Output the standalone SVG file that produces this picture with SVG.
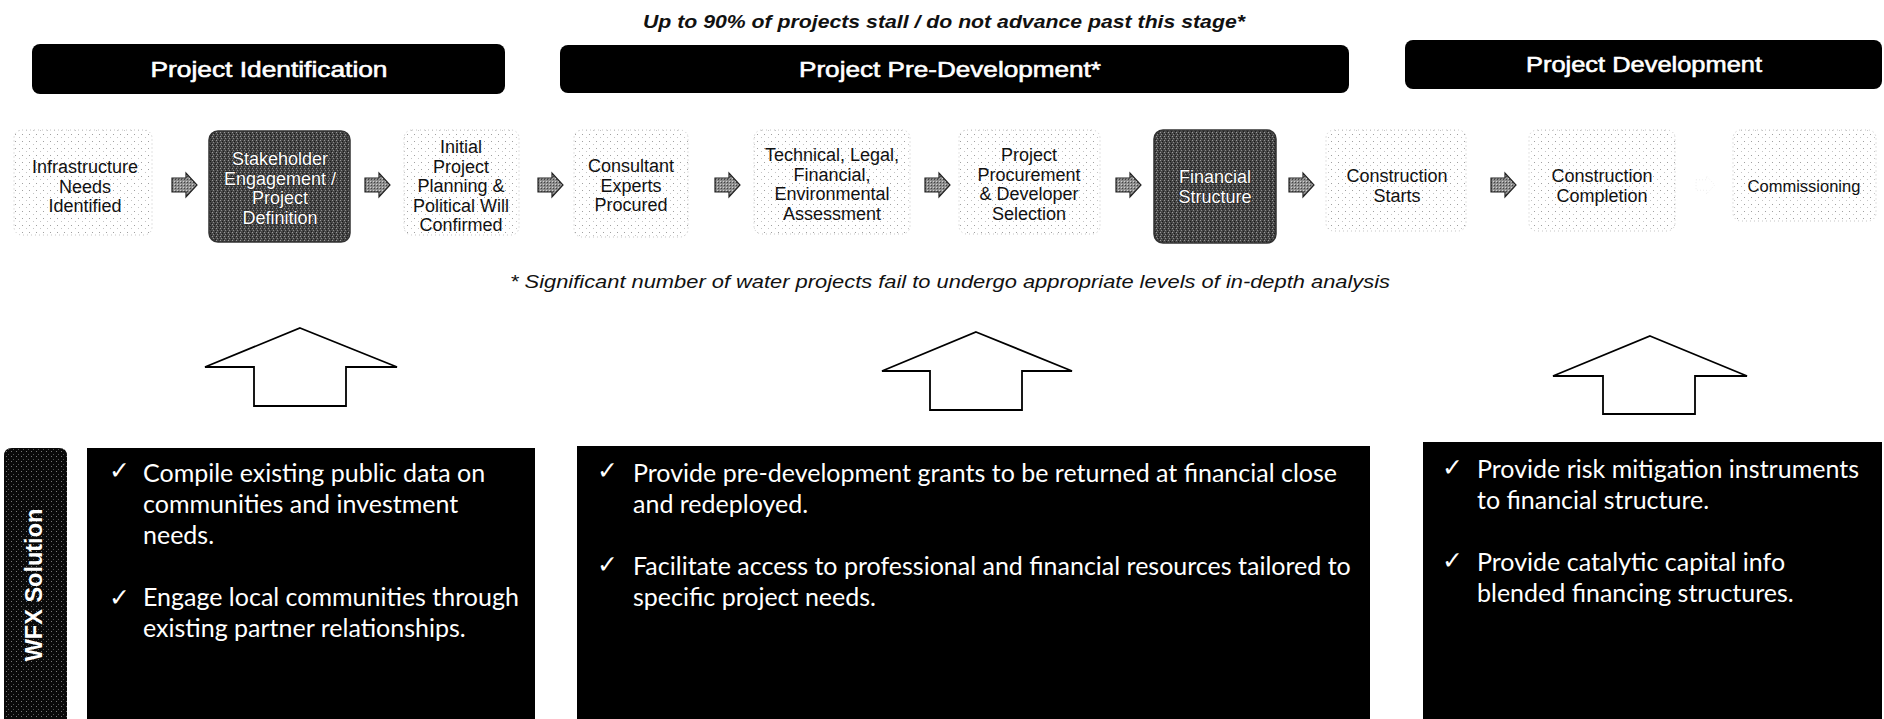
<svg xmlns="http://www.w3.org/2000/svg" width="1884" height="719" viewBox="0 0 1884 719">
<defs>
<pattern id="stip" width="7" height="7" patternUnits="userSpaceOnUse">
<rect width="7" height="7" fill="#ffffff"/>
<rect x="1" y="1" width="1" height="1" fill="#a0a0a0"/>
<rect x="5" y="4" width="1" height="1" fill="#c4c4c4"/>
</pattern>
<pattern id="dark" width="4" height="4" patternUnits="userSpaceOnUse">
<rect width="4" height="4" fill="#454545"/>
<rect x="0" y="0" width="1" height="1" fill="#9a9a9a"/>
<rect x="2" y="1" width="1" height="1" fill="#1a1a1a"/>
<rect x="1" y="2" width="1" height="1" fill="#8a8a8a"/>
<rect x="3" y="3" width="1" height="1" fill="#1e1e1e"/>
</pattern>
<pattern id="arrtex" width="3" height="3" patternUnits="userSpaceOnUse">
<rect width="3" height="3" fill="#8c8c8c"/>
<rect x="0" y="0" width="1" height="1" fill="#444"/>
<rect x="2" y="2" width="1" height="1" fill="#d0d0d0"/>
</pattern>
<pattern id="tabtex" width="5" height="5" patternUnits="userSpaceOnUse">
<rect width="5" height="5" fill="#0a0a0a"/>
<rect x="1" y="1" width="1" height="1" fill="#777"/>
<rect x="3" y="4" width="1" height="1" fill="#555"/>
</pattern>
<style>
.bar{fill:#000;}
.bart{font-family:"Liberation Sans",Arial,sans-serif;font-size:22px;fill:#fff;stroke:#fff;stroke-width:0.6;text-anchor:middle;}
.light{fill:url(#stip);stroke:#c4c4c4;stroke-width:1;stroke-dasharray:1 3;}
.darkn{fill:url(#dark);stroke:#333;stroke-width:1.5;}
.nt{font-family:"Liberation Sans",Arial,sans-serif;font-size:18px;fill:#111;text-anchor:middle;}
.ntw{font-family:"Liberation Sans",Arial,sans-serif;font-size:18px;fill:#fff;text-anchor:middle;stroke:#222;stroke-width:1.2;paint-order:stroke;}
.conn{fill:url(#arrtex);stroke:#222;stroke-width:1.2;}
.faint{fill:none;stroke:#e2e2e2;stroke-width:1;stroke-dasharray:1 3;}
.up{fill:#fff;stroke:#000;stroke-width:1.8;stroke-linejoin:miter;}
.box{fill:#000;}
.bt{font-family:Lato,"Open Sans",sans-serif;font-size:25px;fill:#fff;}
.ck{font-family:"DejaVu Sans",sans-serif;font-size:25px;fill:#fff;}
.title{font-family:"Liberation Sans",Arial,sans-serif;font-weight:bold;font-style:italic;font-size:19px;fill:#111;text-anchor:middle;}
.foot{font-family:"Liberation Sans",Arial,sans-serif;font-style:italic;font-size:18px;fill:#111;text-anchor:middle;}
</style>
</defs>
<rect width="1884" height="719" fill="#fff"/>

<text class="title" x="944" y="28" textLength="602" lengthAdjust="spacingAndGlyphs">Up to 90% of projects stall / do not advance past this stage*</text>

<g id="phase-identification">
<rect class="bar" x="32" y="44" width="473" height="50" rx="8"/>
<text class="bart" x="269" y="77" textLength="237" lengthAdjust="spacingAndGlyphs">Project Identification</text>
</g>
<g id="phase-predevelopment">
<rect class="bar" x="560" y="45" width="789" height="48" rx="8"/>
<text class="bart" x="950" y="77" textLength="302" lengthAdjust="spacingAndGlyphs">Project Pre-Development*</text>
</g>
<g id="phase-development">
<rect class="bar" x="1405" y="40" width="477" height="49" rx="8"/>
<text class="bart" x="1644" y="72" textLength="236" lengthAdjust="spacingAndGlyphs">Project Development</text>
</g>

<g id="n1">
<rect class="light" x="14" y="130" width="138" height="105" rx="8"/>
<text class="nt" x="85"><tspan x="85" y="173">Infrastructure</tspan><tspan x="85" y="192.5">Needs</tspan><tspan x="85" y="212">Identified</tspan></text>
</g>
<g id="n2">
<rect class="darkn" x="209" y="131" width="141" height="111" rx="9"/>
<text class="ntw" x="280"><tspan x="280" y="165">Stakeholder</tspan><tspan x="280" y="184.5">Engagement /</tspan><tspan x="280" y="204">Project</tspan><tspan x="280" y="223.5">Definition</tspan></text>
</g>
<g id="n3">
<rect class="light" x="404" y="130" width="115" height="105" rx="8"/>
<text class="nt" x="461"><tspan x="461" y="153">Initial</tspan><tspan x="461" y="172.5">Project</tspan><tspan x="461" y="192">Planning &amp;</tspan><tspan x="461" y="211.5">Political Will</tspan><tspan x="461" y="231">Confirmed</tspan></text>
</g>
<g id="n4">
<rect class="light" x="574" y="130" width="114" height="107" rx="8"/>
<text class="nt" x="631"><tspan x="631" y="172">Consultant</tspan><tspan x="631" y="191.5">Experts</tspan><tspan x="631" y="211">Procured</tspan></text>
</g>
<g id="n5">
<rect class="light" x="754" y="130" width="156" height="104" rx="8"/>
<text class="nt" x="832"><tspan x="832" y="161">Technical, Legal,</tspan><tspan x="832" y="180.5">Financial,</tspan><tspan x="832" y="200">Environmental</tspan><tspan x="832" y="219.5">Assessment</tspan></text>
</g>
<g id="n6">
<rect class="light" x="959" y="130" width="141" height="104" rx="8"/>
<text class="nt" x="1029"><tspan x="1029" y="161">Project</tspan><tspan x="1029" y="180.5">Procurement</tspan><tspan x="1029" y="200">&amp; Developer</tspan><tspan x="1029" y="219.5">Selection</tspan></text>
</g>
<g id="n7">
<rect class="darkn" x="1154" y="130" width="122" height="113" rx="9"/>
<text class="ntw" x="1215"><tspan x="1215" y="183">Financial</tspan><tspan x="1215" y="202.5">Structure</tspan></text>
</g>
<g id="n8">
<rect class="light" x="1326" y="130" width="140" height="101" rx="8"/>
<text class="nt" x="1397"><tspan x="1397" y="182">Construction</tspan><tspan x="1397" y="201.5">Starts</tspan></text>
</g>
<g id="n9">
<rect class="light" x="1529" y="130" width="146" height="101" rx="8"/>
<text class="nt" x="1602"><tspan x="1602" y="182">Construction</tspan><tspan x="1602" y="201.5">Completion</tspan></text>
</g>
<g id="n10">
<rect class="light" x="1733" y="130" width="143" height="91" rx="8"/>
<text class="nt" x="1804" y="192" style="font-size:16.5px">Commissioning</text>
</g>

<g id="connectors">
<path class="conn" transform="translate(172,185)" d="M0,-7 H14 V-12 L25,0 L14,12 V7 H0 Z"/>
<path class="conn" transform="translate(365,185)" d="M0,-7 H14 V-12 L25,0 L14,12 V7 H0 Z"/>
<path class="conn" transform="translate(538,185)" d="M0,-7 H14 V-12 L25,0 L14,12 V7 H0 Z"/>
<path class="conn" transform="translate(715,185)" d="M0,-7 H14 V-12 L25,0 L14,12 V7 H0 Z"/>
<path class="conn" transform="translate(925,185)" d="M0,-7 H14 V-12 L25,0 L14,12 V7 H0 Z"/>
<path class="conn" transform="translate(1116,185)" d="M0,-7 H14 V-12 L25,0 L14,12 V7 H0 Z"/>
<path class="conn" transform="translate(1289,185)" d="M0,-7 H14 V-12 L25,0 L14,12 V7 H0 Z"/>
<path class="conn" transform="translate(1491,185)" d="M0,-7 H14 V-12 L25,0 L14,12 V7 H0 Z"/>
<path class="faint" transform="translate(1696,185) scale(0.75)" d="M0,-7 H14 V-12 L25,0 L14,12 V7 H0 Z"/>
</g>

<text class="foot" x="950" y="288" textLength="880" lengthAdjust="spacingAndGlyphs">* Significant number of water projects fail to undergo appropriate levels of in-depth analysis</text>

<g id="up-arrows">
<path class="up" d="M300,328 L397,367 H346 V406 H254 V367 H205 Z"/>
<path class="up" d="M976,332 L1072,371 H1022 V410 H930 V371 H882 Z"/>
<path class="up" d="M1650,336 L1747,376 H1695 V414 H1603 V376 H1553 Z"/>
</g>

<g id="wfx-tab">
<path d="M4,719 V456 Q4,448 12,448 H59 Q67,448 67,456 V719 Z" fill="url(#tabtex)"/>
<text transform="translate(42,585) rotate(-90)" text-anchor="middle" style="font-family:'Liberation Sans',Arial,sans-serif;font-weight:bold;font-size:23.5px;fill:#fff">WFX Solution</text>
</g>

<g id="solution-identification">
<rect class="box" x="87" y="448" width="448" height="271"/>
<text class="ck" x="109" y="479">✓</text>
<text class="bt" x="143" y="482">Compile existing public data on</text>
<text class="bt" x="143" y="513">communities and investment</text>
<text class="bt" x="143" y="544">needs.</text>
<text class="ck" x="109" y="606">✓</text>
<text class="bt" x="143" y="606">Engage local communities through</text>
<text class="bt" x="143" y="637">existing partner relationships.</text>
</g>

<g id="solution-predevelopment">
<rect class="box" x="577" y="446" width="793" height="273"/>
<text class="ck" x="597" y="479">✓</text>
<text class="bt" x="633" y="482">Provide pre-development grants to be returned at financial close</text>
<text class="bt" x="633" y="513">and redeployed.</text>
<text class="ck" x="597" y="573">✓</text>
<text class="bt" x="633" y="575">Facilitate access to professional and financial resources tailored to</text>
<text class="bt" x="633" y="606">specific project needs.</text>
</g>

<g id="solution-development">
<rect class="box" x="1423" y="442" width="459" height="277"/>
<text class="ck" x="1442" y="476">✓</text>
<text class="bt" x="1477" y="478">Provide risk mitigation instruments</text>
<text class="bt" x="1477" y="509">to financial structure.</text>
<text class="ck" x="1442" y="569">✓</text>
<text class="bt" x="1477" y="571">Provide catalytic capital info</text>
<text class="bt" x="1477" y="602">blended financing structures.</text>
</g>
</svg>
